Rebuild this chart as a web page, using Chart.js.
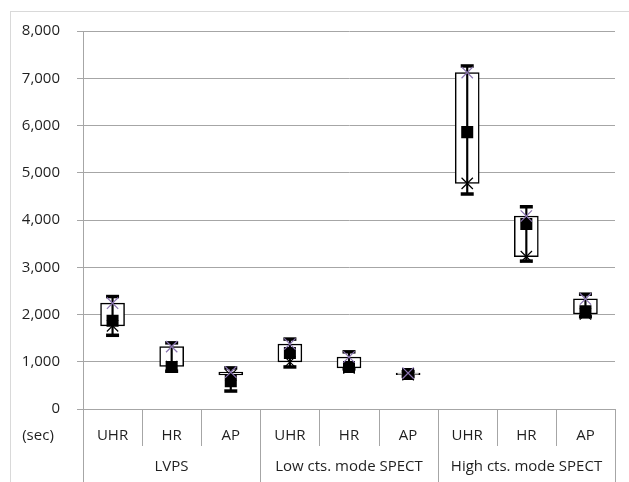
<!DOCTYPE html>
<html>
<head>
<meta charset="utf-8">
<script src="https://cdn.jsdelivr.net/npm/chart.js@4"></script>
<style>
  html, body { margin: 0; padding: 0; background: #fff; }
  #wrap { width: 629px; height: 482px; }
</style>
</head>
<body>
<div id="wrap"><canvas id="boxChart" width="629" height="482"></canvas></div>
<script>
  // categories and groups
  const categories = ['UHR', 'HR', 'AP', 'UHR', 'HR', 'AP', 'UHR', 'HR', 'AP'];
  const groups = ['LVPS', 'Low cts. mode SPECT', 'High cts. mode SPECT'];
  const yTicks = [0, 1000, 2000, 3000, 4000, 5000, 6000, 7000, 8000];

  // values (sec)
  const highs = [2380, 1400, 870, 1480, 1210, 790, 7260, 4280, 2430];
  const lows  = [1560, 800, 380, 890, 850, 690, 4550, 3130, 1950];
  const boxTop    = [2240, 1320, 780, 1375, 1100, 760, 7120, 4085, 2330];
  const boxBottom = [1760, 900, 720, 995, 870, 725, 4775, 3225, 2010];
  const means = [1870, 890, 590, 1185, 890, 740, 5860, 3915, 2070];

  const fontFamily = "'Open Sans', 'Noto Sans', sans-serif";
  const textColor = '#1f1f1f';

  // draws frame, category separators, "(sec)" and group labels
  const axisDecor = {
    id: 'axisDecor',
    beforeDraw(chart) {
      const ctx = chart.ctx;
      ctx.save();
      ctx.fillStyle = '#fff';
      ctx.fillRect(0, 0, chart.width, chart.height);
      ctx.strokeStyle = '#d9d9d9';
      ctx.lineWidth = 1;
      ctx.strokeRect(10.5, 11.5, 640, 500);
      ctx.restore();
    },
    afterDraw(chart) {
      const ctx = chart.ctx;
      const x = chart.scales.x;
      const area = chart.chartArea;
      const n = categories.length;
      const edges = [area.left];
      for (let i = 0; i < n - 1; i++) {
        edges.push(Math.round((x.getPixelForValue(i) + x.getPixelForValue(i + 1)) / 2));
      }
      edges.push(area.right);

      ctx.save();
      ctx.strokeStyle = '#a6a6a6';
      ctx.lineWidth = 1;
      edges.forEach((e, i) => {
        const full = i % 3 === 0;
        ctx.beginPath();
        ctx.moveTo(Math.round(e) + 0.5, area.bottom);
        ctx.lineTo(Math.round(e) + 0.5, full ? chart.height : area.bottom + 37);
        ctx.stroke();
      });

      ctx.fillStyle = textColor;
      ctx.font = '15px ' + fontFamily;
      ctx.textAlign = 'center';
      ctx.textBaseline = 'middle';
      ctx.fillText('(sec)', 38, 436);
      groups.forEach((g, i) => {
        const cx = (edges[i * 3] + edges[i * 3 + 3]) / 2;
        ctx.fillText(g, cx, 467);
      });
      ctx.restore();
    }
  };

  new Chart(document.getElementById('boxChart'), {
    data: {
      labels: categories,
      datasets: [
        {
          // purple X at box top
          type: 'line',
          data: boxTop,
          showLine: false,
          pointStyle: 'crossRot',
          pointRadius: 8,
          pointBorderWidth: 1.2,
          pointBorderColor: '#8a74b0',
          order: 0
        },
        {
          // mean square
          type: 'line',
          data: means,
          showLine: false,
          pointStyle: 'rect',
          pointRadius: 8.5,
          pointBackgroundColor: '#000',
          pointBorderColor: '#000',
          pointBorderWidth: 0,
          order: 1
        },
        {
          // black X at box bottom
          type: 'line',
          data: boxBottom,
          showLine: false,
          pointStyle: 'crossRot',
          pointRadius: 8,
          pointBorderWidth: 1.2,
          pointBorderColor: '#000',
          order: 2
        },
        {
          // max cap
          type: 'line',
          data: highs,
          showLine: false,
          pointStyle: 'line',
          pointRadius: 6.5,
          pointBorderWidth: 3.5,
          pointBorderColor: '#000',
          order: 3
        },
        {
          // min cap
          type: 'line',
          data: lows,
          showLine: false,
          pointStyle: 'line',
          pointRadius: 6.5,
          pointBorderWidth: 3.5,
          pointBorderColor: '#000',
          order: 3
        },
        {
          // whisker
          type: 'bar',
          data: lows.map((v, i) => [v, highs[i]]),
          backgroundColor: '#000',
          borderWidth: 0,
          barThickness: 1.5,
          grouped: false,
          order: 4
        },
        {
          // box
          type: 'bar',
          data: boxBottom.map((v, i) => [v, boxTop[i]]),
          backgroundColor: '#fff',
          borderColor: '#000',
          borderWidth: 1.5,
          borderSkipped: false,
          barThickness: 24,
          grouped: false,
          order: 5
        }
      ]
    },
    options: {
      responsive: false,
      animation: false,
      layout: { padding: { top: 31, left: 0, right: 14, bottom: 0 } },
      plugins: { legend: { display: false }, tooltip: { enabled: false } },
      scales: {
        x: {
          type: 'category',
          offset: true,
          afterFit: s => { s.height = 73; },
          grid: { display: false, drawTicks: false },
          border: { display: true, color: '#a6a6a6', width: 1 },
          ticks: {
            padding: 18,
            color: textColor,
            font: { family: fontFamily, size: 15 },
            maxRotation: 0,
            autoSkip: false
          }
        },
        y: {
          min: 0,
          max: 8000,
          afterFit: s => { s.width = 83; },
          afterBuildTicks: s => { s.ticks = yTicks.map(v => ({ value: v })); },
          grid: { color: '#a6a6a6', lineWidth: 1, tickLength: 6 },
          border: { display: true, color: '#a6a6a6', width: 1 },
          ticks: {
            padding: 17,
            color: textColor,
            font: { family: fontFamily, size: 15 },
            callback: v => v.toLocaleString('en-US')
          }
        }
      }
    },
    plugins: [axisDecor]
  });
</script>
</body>
</html>
